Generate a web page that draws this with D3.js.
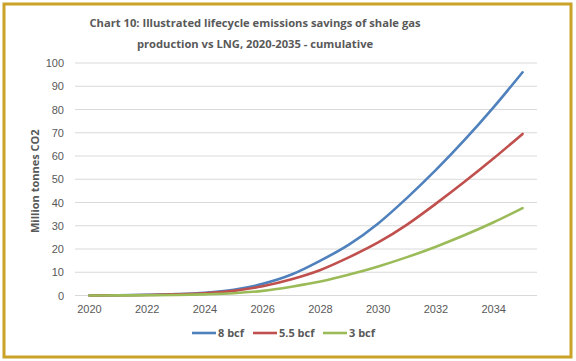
<!DOCTYPE html>
<html>
<head>
<meta charset="utf-8">
<script src="https://cdn.jsdelivr.net/npm/d3@7"></script>
<style>
  body { margin: 0; background: #fff; }
  svg { display: block; font-family: "Open Sans", "Noto Sans", sans-serif; }
</style>
</head>
<body>
<svg width="576" height="361"></svg>
<script>
const years = d3.range(2020, 2036)
const tickYears = [2020, 2022, 2024, 2026, 2028, 2030, 2032, 2034]
const yTicks = d3.range(0, 101, 10)

// cumulative savings, million tonnes CO2
const bcf8 = [0, 0.1, 0.3, 0.6, 1.2, 2.5, 5, 9, 15, 22, 31, 42, 54, 67, 81, 96]
const bcf55 = [0, 0.1, 0.2, 0.5, 1, 2, 4, 7, 11, 16.5, 22.8, 30.5, 39.5, 49, 59, 69.5]
const bcf3 = [0, 0.05, 0.1, 0.2, 0.5, 1, 2, 3.8, 6, 9, 12.5, 16.5, 21, 26, 31.5, 37.6]

const series = [
  { name: "8 bcf", values: bcf8, color: "#4F81BD" },
  { name: "5.5 bcf", values: bcf55, color: "#C0504D" },
  { name: "3 bcf", values: bcf3, color: "#9BBB59" }
]

const svg = d3.select("svg")
const textColor = "#595959"

// gold frame
svg.append("rect")
  .attr("x", 4).attr("y", 4)
  .attr("width", 567).attr("height", 353)
  .attr("fill", "#fff")
  .attr("stroke", "#C9A227")
  .attr("stroke-width", 3)

const plotLeft = 75, plotRight = 537, plotTop = 63, plotBottom = 295.5

const x = d3.scaleBand()
  .domain(years)
  .range([plotLeft, plotRight])

const y = d3.scaleLinear()
  .domain([0, 100])
  .range([plotBottom, plotTop])

// gridlines
svg.append("g")
  .selectAll("line")
  .data(yTicks)
  .join("line")
  .attr("x1", plotLeft).attr("x2", plotRight)
  .attr("y1", d => y(d)).attr("y2", d => y(d))
  .attr("stroke", "#D9D9D9")
  .attr("stroke-width", 1)

const yAxis = svg.append("g")
  .attr("transform", `translate(${plotLeft - 11},0)`)
  .call(d3.axisLeft(y).tickValues(yTicks).tickSize(0).tickPadding(0))
yAxis.select(".domain").remove()
yAxis.selectAll("text")
  .attr("fill", textColor)
  .style("font-size", "11px")

const xAxis = svg.append("g")
  .attr("transform", `translate(0,${plotBottom + 10})`)
  .call(d3.axisBottom(x).tickValues(tickYears).tickSize(0).tickPadding(0))
xAxis.select(".domain").remove()
xAxis.selectAll("text")
  .attr("fill", textColor)
  .style("font-size", "11px")

const line = d3.line()
  .x((d, i) => x(years[i]) + x.bandwidth() / 2)
  .y(d => y(d))
  .curve(d3.curveMonotoneX)

svg.append("g")
  .selectAll("path")
  .data(series)
  .join("path")
  .attr("d", d => line(d.values))
  .attr("fill", "none")
  .attr("stroke", d => d.color)
  .attr("stroke-width", 2.6)
  .attr("stroke-linecap", "round")

// title
const title = svg.append("text")
  .attr("text-anchor", "middle")
  .attr("fill", textColor)
  .style("font-size", "11.2px")
  .style("font-weight", "bold")
title.append("tspan").attr("x", 255).attr("y", 27)
  .text("Chart 10: Illustrated lifecycle emissions savings of shale gas")
title.append("tspan").attr("x", 255).attr("y", 48)
  .text("production vs LNG, 2020-2035 - cumulative")

// y axis title
svg.append("text")
  .attr("transform", `translate(39,${(plotTop + plotBottom) / 2 + 2}) rotate(-90)`)
  .attr("text-anchor", "middle")
  .attr("fill", textColor)
  .style("font-size", "11px")
  .style("font-weight", "bold")
  .text("Million tonnes CO2")

// legend
const legendX = [192, 253, 323]
const legend = svg.append("g")
  .selectAll("g")
  .data(series)
  .join("g")
  .attr("transform", (d, i) => `translate(${legendX[i]},333)`)
legend.append("line")
  .attr("x1", 0).attr("x2", 24)
  .attr("stroke", d => d.color)
  .attr("stroke-width", 2.6)
legend.append("text")
  .attr("x", 26)
  .attr("dy", "0.35em")
  .attr("fill", textColor)
  .style("font-size", "11px")
  .style("font-weight", "bold")
  .text(d => d.name)
</script>
</body>
</html>
